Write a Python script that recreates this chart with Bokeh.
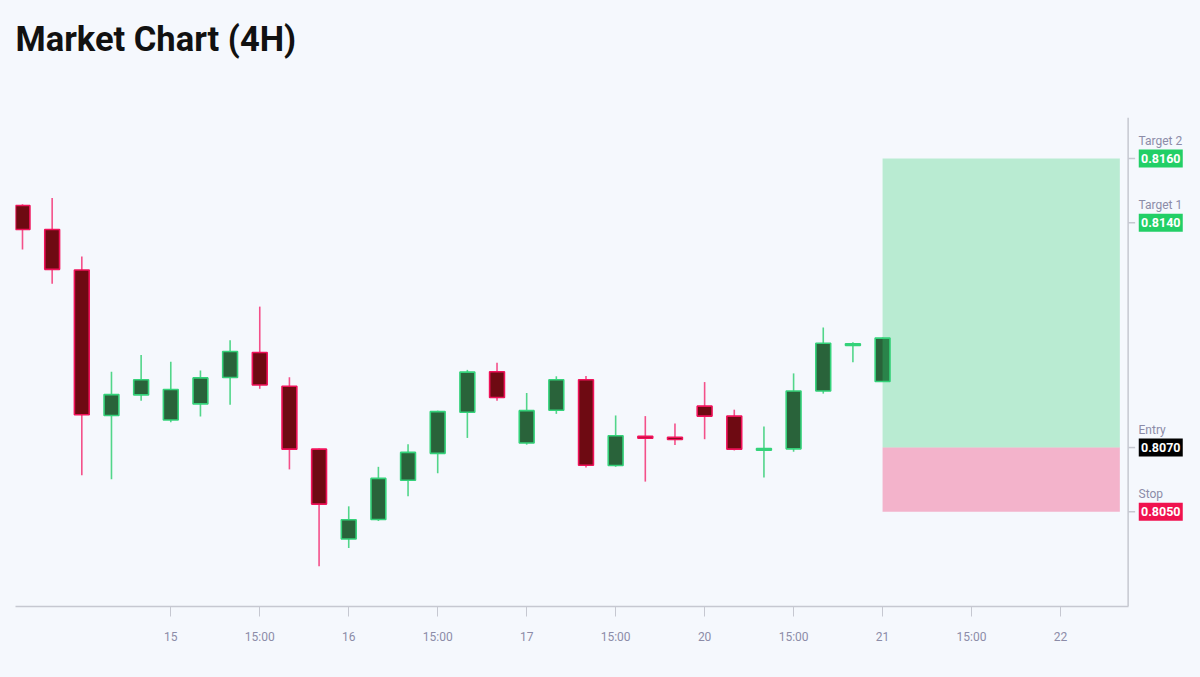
from bokeh.plotting import figure
from bokeh.models import ColumnDataSource, FixedTicker, Range1d, Span, Title
from bokeh.core.properties import value
from bokeh.embed import file_html
from bokeh.resources import INLINE

# ---- data ----
candle_index = list(range(30))
opens  = [0.81454, 0.81379, 0.81253, 0.80800, 0.80864, 0.80786, 0.80836, 0.80918, 0.80996, 0.80891,
          0.80695, 0.80415, 0.80476, 0.80598, 0.80682, 0.80810, 0.80936, 0.80714, 0.80816, 0.80911,
          0.80644, 0.80735, 0.80732, 0.80829, 0.80798, 0.80692, 0.80696, 0.80876, 0.81018, 0.80906]
closes = [0.81379, 0.81255, 0.80802, 0.80865, 0.80911, 0.80881, 0.80917, 0.80999, 0.80895, 0.80695,
          0.80524, 0.80475, 0.80604, 0.80685, 0.80812, 0.80935, 0.80856, 0.80815, 0.80911, 0.80645,
          0.80737, 0.80729, 0.80725, 0.80798, 0.80695, 0.80697, 0.80876, 0.81025, 0.81023, 0.81041]
highs  = [0.81458, 0.81477, 0.81295, 0.80936, 0.80988, 0.80967, 0.80940, 0.81034, 0.81139, 0.80919,
          0.80697, 0.80517, 0.80640, 0.80710, 0.80815, 0.80942, 0.80964, 0.80870, 0.80922, 0.80923,
          0.80800, 0.80798, 0.80775, 0.80904, 0.80818, 0.80766, 0.80931, 0.81074, 0.81028, 0.81043]
lows   = [0.81317, 0.81210, 0.80614, 0.80601, 0.80846, 0.80779, 0.80797, 0.80833, 0.80883, 0.80632,
          0.80330, 0.80387, 0.80471, 0.80548, 0.80620, 0.80730, 0.80846, 0.80709, 0.80805, 0.80638,
          0.80640, 0.80594, 0.80708, 0.80726, 0.80691, 0.80607, 0.80687, 0.80868, 0.80966, 0.80906]

tick_positions = [5, 8, 11, 14, 17, 20, 23, 26, 29, 32, 35]
tick_labels = ["15", "15:00", "16", "15:00", "17", "15:00", "20", "15:00", "21", "15:00", "22"]

level_names = ["Target 2", "Target 1", "Entry", "Stop"]
level_values = [0.8160, 0.8140, 0.8070, 0.8050]
level_colors = ["#22cf66", "#22cf66", "#000000", "#f0124f"]

zone_start = 29
zone_end = 37

# ---- layout constants (x in candle-index units) ----
X_START, X_END = -0.236, 39.72
Y_START, Y_END = 0.80205, 0.81728
PRICE_AXIS_X = 37.28          # where the price scale line sits
TICK_LEN = 0.236              # ~7px
BOX_X = 38.38                 # centre of the price boxes
NAME_X = 37.63                # left of the level names

# ---- styling ----
BG = "#f5f8fd"
BULL_FILL, BULL_LINE, BULL_WICK = "#29633a", "#34d27a", "#52d68a"
BEAR_FILL, BEAR_LINE, BEAR_WICK = "#6e0a12", "#f0125a", "#f4508a"
AXIS_GRAY = "#c6c8d1"
TEXT_GRAY = "#8c8ca8"

bull = [c >= o for o, c in zip(opens, closes)]
src = ColumnDataSource(dict(
    x=candle_index,
    top=[max(o, c) for o, c in zip(opens, closes)],
    bottom=[min(o, c) for o, c in zip(opens, closes)],
    high=highs,
    low=lows,
    fill=[BULL_FILL if b else BEAR_FILL for b in bull],
    line=[BULL_LINE if b else BEAR_LINE for b in bull],
    wick=[BULL_WICK if b else BEAR_WICK for b in bull],
))

p = figure(width=1200, height=677, output_backend="svg", toolbar_location=None,
           title=None, y_axis_location=None,
           x_range=Range1d(X_START, X_END), y_range=Range1d(Y_START, Y_END),
           min_border_left=15, min_border_right=0, min_border_bottom=71, min_border_top=0)

p.background_fill_color = BG
p.border_fill_color = BG
p.outline_line_color = None
p.grid.visible = False

# spacer between the title and the plot area, then the title itself
p.add_layout(Title(text=" ", text_font_size="10px", standoff=30), "above")
p.add_layout(Title(text="Market Chart (4H)", text_font="Roboto", text_font_size="34.5px",
                   text_font_style="bold", text_color="#111111", align="left", standoff=32), "above")

p.segment(x0="x", y0="high", x1="x", y1="low", line_color="wick", line_width=1.6, source=src)
p.vbar(x="x", width=0.5, top="top", bottom="bottom", fill_color="fill",
       line_color="line", line_width=1.6, source=src)

# trade zones (drawn over the candles, semi-transparent)
p.quad(left=[zone_start], right=[zone_end], bottom=[level_values[2]], top=[level_values[0]],
       fill_color="#2ecc71", fill_alpha=0.3, line_color=None)
p.quad(left=[zone_start], right=[zone_end], bottom=[level_values[3]], top=[level_values[2]],
       fill_color="#f0135a", fill_alpha=0.3, line_color=None)

# x axis
xa = p.xaxis[0]
xa.bounds = (X_START, PRICE_AXIS_X)
xa.ticker = FixedTicker(ticks=tick_positions)
xa.major_label_overrides = {t: l for t, l in zip(tick_positions, tick_labels)}
xa.minor_tick_line_color = None
xa.major_tick_in = 0
xa.major_tick_out = 10
xa.major_label_standoff = 13
xa.axis_line_color = AXIS_GRAY
xa.axis_line_width = 1.5
xa.major_tick_line_color = AXIS_GRAY
xa.major_label_text_font = "Roboto"
xa.major_label_text_font_size = "12px"
xa.major_label_text_color = TEXT_GRAY

# price scale on the right of the candles
p.add_layout(Span(location=PRICE_AXIS_X, dimension="height", line_color=AXIS_GRAY, line_width=1.5))
n = len(level_values)
p.segment(x0=[PRICE_AXIS_X] * n, y0=level_values, x1=[PRICE_AXIS_X + TICK_LEN] * n, y1=level_values,
          line_color=AXIS_GRAY, line_width=1.5)
p.rect(x=[BOX_X] * n, y=level_values, width=44, height=18, width_units="screen", height_units="screen",
       fill_color=level_colors, line_color=None)
p.text(x=[BOX_X] * n, y=level_values, text=["%.4f" % v for v in level_values],
       text_align="center", text_baseline="middle", text_color="white",
       text_font=value("Roboto"), text_font_size="12.5px", text_font_style="bold")
p.text(x=[NAME_X] * n, y=level_values, y_offset=-18, text=level_names,
       text_align="left", text_baseline="middle", text_color=TEXT_GRAY,
       text_font=value("Roboto"), text_font_size="12px", text_font_style="normal")

html = None
try:
    from jinja2 import Template
    tmpl = Template("{% extends base %}{% block preamble %}<style>body{background:#f5f8fd;}</style>{% endblock %}")
    html = file_html(p, INLINE, "Market Chart (4H)", template=tmpl)
except Exception:
    html = file_html(p, INLINE, "Market Chart (4H)")

open("out.html", "w").write(html)
